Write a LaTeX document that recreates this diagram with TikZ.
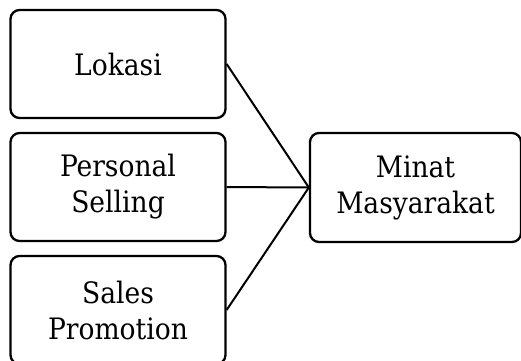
\documentclass[tikz,border=0pt]{standalone}
\usepackage{fontspec}
\setmainfont{DejaVu Serif Condensed}
\begin{document}
\begin{tikzpicture}[x=1pt,y=-1pt,
  box/.style={draw=black,line width=2.3pt,rounded corners=9pt,minimum width=215pt,minimum height=108pt,align=center,inner sep=0pt,font=\fontsize{29.5}{36}\selectfont},
  link/.style={draw=black,line width=2pt}]
\useasboundingbox (0,0) rectangle (521,360);
\node[box] (lok) at (118,64) {Lokasi};
\node[box] (ps) at (118,187) {Personal\\Selling};
\node[box] (sp) at (118,310) {Sales\\Promotion};
\node[box,minimum width=211pt,minimum height=109pt] (mm) at (415.5,187.5) {Minat\\Masyarakat};
\draw[link] (lok.east) -- (mm.west);
\draw[link] (ps.east) -- (mm.west);
\draw[link] (sp.east) -- (mm.west);
\end{tikzpicture}
\end{document}
